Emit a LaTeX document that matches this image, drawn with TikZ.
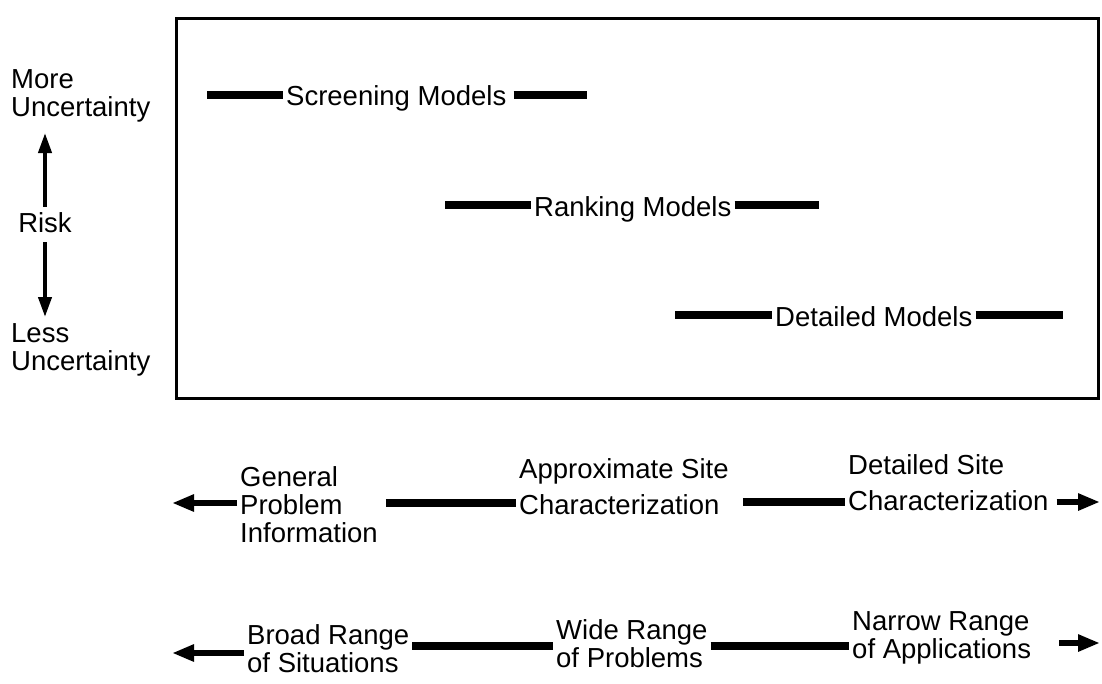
\documentclass[tikz,border=0pt]{standalone}
\usepackage{fontspec}
\setmainfont{Liberation Sans}
\usetikzlibrary{arrows.meta}
\tikzset{label text/.style={inner xsep=3pt, inner ysep=0pt, font=\fontsize{27.5}{28}\selectfont},
 many lines/.style={label text, align=left, anchor=north west},
 model bar/.style={line width=7.5pt, line cap=butt},
 risk arrow/.style={line width=4pt, -{Triangle[length=20pt,width=13pt]}},
 range arrow/.style={line width=6.5pt, -{Triangle[length=22pt,width=16pt]}},
 }

\begin{document}
\begin{tikzpicture}[x=1pt,y=-1pt]
        \useasboundingbox (0,0) rectangle (1102,683);
        \draw[line width=3pt] (176,18) rectangle (1098,398);

        \node[label text, anchor=base west] (scr) at (283,105) {Screening Models};
        \node[label text, anchor=base west] (rank) at (531,216) {Ranking Models};
        \node[label text, anchor=base west] (detm) at (772,326) {Detailed Models};
        \coordinate (scrL) at (207,95);
        \coordinate (scrR) at (587,95);
        \coordinate (rankL) at (445,205);
        \coordinate (rankR) at (819,205);
        \coordinate (detmL) at (675,315);
        \coordinate (detmR) at (1063,315);
        \draw[model bar] (scrL) -- (scr.west |- scrL);
        \draw[model bar, shorten <=4pt] (scr.east |- scrR) -- (scrR);
        \draw[model bar] (rankL) -- (rank.west |- rankL);
        \draw[model bar] (rank.east |- rankR) -- (rankR);
        \draw[model bar] (detmL) -- (detm.west |- detmL);
        \draw[model bar] (detm.east |- detmR) -- (detmR);

        \node[many lines] (more) at (8,69) {More\\Uncertainty};
        \node[label text, anchor=base] (risk) at (45,232) {Risk};
        \node[many lines] (less) at (8,323) {Less\\Uncertainty};
        \coordinate (riskup) at (45,133);
        \coordinate (riskdown) at (45,317);
        \draw[risk arrow] ([yshift=5pt]risk.north) -- (riskup);
        \draw[risk arrow] ([yshift=-10pt]risk.south) -- (riskdown);

        \node[many lines] (gen) at (237,466) {General\\Problem\\Information};
        \node[many lines] (appr) at (516,458) {Approximate Site\\[8pt]Characterization};
        \node[many lines] (det) at (845,454) {Detailed Site\\[8pt]Characterization};
        \coordinate (gentip) at (172,503);
        \coordinate (dettip) at (1100,502);
        \draw[range arrow] (gen.west |- gentip) -- (gentip);
        \draw[model bar, shorten <=5pt] (gen.east |- gentip) -- (appr.west |- gentip);
        \draw[model bar, shorten <=11pt] (appr.east |- dettip) -- (det.west |- dettip);
        \draw[range arrow, shorten <=5pt] (det.east |- dettip) -- (dettip);

        \node[many lines] (broad) at (244,624) {Broad Range\\of Situations};
        \node[many lines] (wide) at (553,619) {Wide Range\\of Problems};
        \node[many lines] (narrow) at (849,611) {Narrow Range\\of Applications};
        \coordinate (broadtip) at (172,653);
        \coordinate (narrowtip) at (1100,643);
        \coordinate (lv3) at (0,646);
        \draw[range arrow] (broad.west |- broadtip) -- (broadtip);
        \draw[model bar] (broad.east |- lv3) -- (wide.west |- lv3);
        \draw[model bar] (wide.east |- lv3) -- (narrow.west |- lv3);
        \draw[range arrow, shorten <=25pt] (narrow.east |- narrowtip) -- (narrowtip);
    \end{tikzpicture}
\end{document}
